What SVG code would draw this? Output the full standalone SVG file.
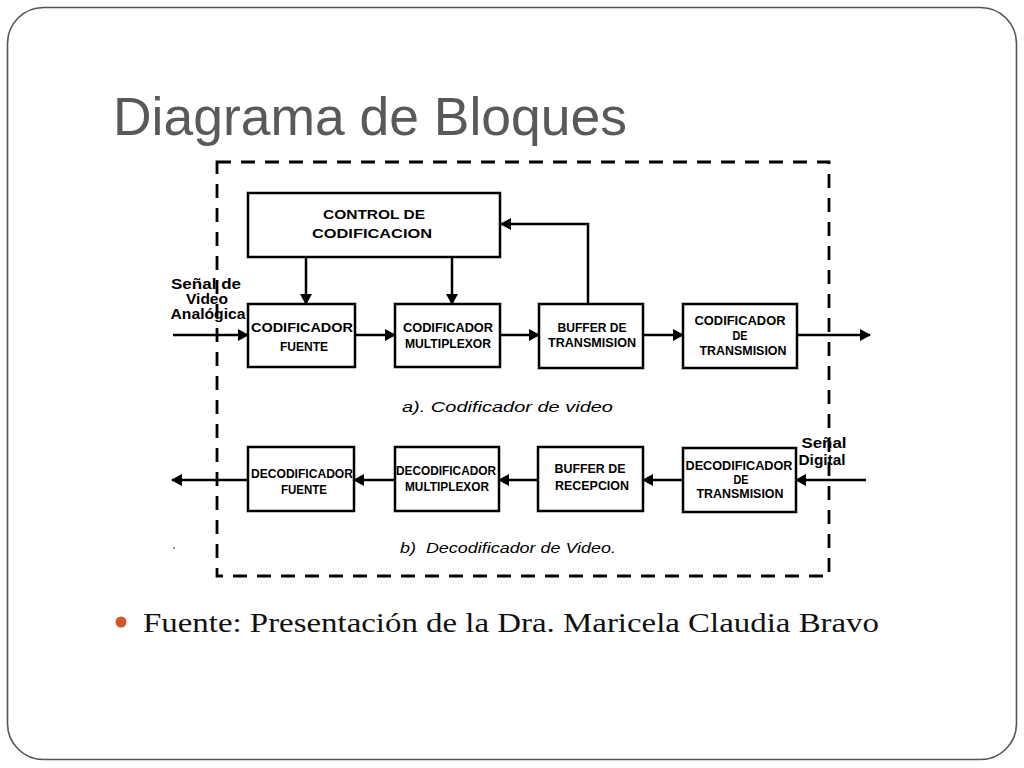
<svg xmlns="http://www.w3.org/2000/svg" width="1024" height="768" viewBox="0 0 1024 768">
<style>
.box{fill:#fff;stroke:#000;stroke-width:2.5}
.bt{font-family:"Liberation Sans",Arial,sans-serif;font-weight:bold;font-size:12.5px;fill:#000;text-anchor:middle}
.lbl{font-family:"Liberation Sans",Arial,sans-serif;font-weight:bold;font-size:15px;fill:#000;text-anchor:middle}
.cap{font-family:"Liberation Sans",Arial,sans-serif;font-style:italic;font-size:15px;fill:#000}
.con{fill:none;stroke:#000;stroke-width:2.5;marker-end:url(#ah)}
</style>
<defs>
<marker id="ah" markerUnits="userSpaceOnUse" markerWidth="11" markerHeight="12" refX="10" refY="6" orient="auto">
<path d="M0,0 L11,6 L0,12 z" fill="#000"/>
</marker>
</defs>
<rect width="1024" height="768" fill="#fff"/>
<rect x="7.5" y="7.5" width="1009" height="752" rx="36" ry="36" fill="none" stroke="#555" stroke-width="1.6"/>
<text x="113" y="135" font-family="'Liberation Sans',Arial,sans-serif" font-size="53" fill="#595959" textLength="514" lengthAdjust="spacingAndGlyphs">Diagrama de Bloques</text>
<rect x="217" y="162" width="612" height="414" fill="none" stroke="#000" stroke-width="2.8" stroke-dasharray="14 10"/>

<g id="connectors">
<path class="con" d="M173,335 H248"/>
<path class="con" d="M355,335 H395"/>
<path class="con" d="M500,335 H539"/>
<path class="con" d="M643,335 H683"/>
<path class="con" d="M797,335 H870"/>
<path class="con" d="M306,257 V304"/>
<path class="con" d="M452,257 V304"/>
<path class="con" d="M588,304 V224 H501"/>
<path class="con" d="M866,480 H796"/>
<path class="con" d="M683,480 H643"/>
<path class="con" d="M538,480 H499"/>
<path class="con" d="M395,480 H354"/>
<path class="con" d="M248,480 H172"/>
</g>

<g id="control">
<rect class="box" x="248" y="193" width="252" height="64"/>
<text class="bt" x="374" y="219" font-size="13.5" textLength="102" lengthAdjust="spacingAndGlyphs">CONTROL DE</text>
<text class="bt" x="372" y="238" font-size="13.5" textLength="120" lengthAdjust="spacingAndGlyphs">CODIFICACION</text>
</g>
<g id="cod-fuente">
<rect class="box" x="248" y="304" width="107" height="63"/>
<text class="bt" x="302" y="332" textLength="102" lengthAdjust="spacingAndGlyphs">CODIFICADOR</text>
<text class="bt" x="304" y="351" textLength="48" lengthAdjust="spacingAndGlyphs">FUENTE</text>
</g>
<g id="cod-mux">
<rect class="box" x="395" y="304" width="105" height="63"/>
<text class="bt" x="448" y="332" textLength="90" lengthAdjust="spacingAndGlyphs">CODIFICADOR</text>
<text class="bt" x="448" y="348" textLength="86" lengthAdjust="spacingAndGlyphs">MULTIPLEXOR</text>
</g>
<g id="buffer-tx">
<rect class="box" x="539" y="304" width="104" height="64"/>
<text class="bt" x="592" y="332" textLength="69" lengthAdjust="spacingAndGlyphs">BUFFER DE</text>
<text class="bt" x="592" y="347" textLength="88" lengthAdjust="spacingAndGlyphs">TRANSMISION</text>
</g>
<g id="cod-tx">
<rect class="box" x="683" y="304" width="114" height="64"/>
<text class="bt" x="740" y="325" textLength="91" lengthAdjust="spacingAndGlyphs">CODIFICADOR</text>
<text class="bt" x="740" y="340" textLength="15" lengthAdjust="spacingAndGlyphs">DE</text>
<text class="bt" x="743" y="355" textLength="87" lengthAdjust="spacingAndGlyphs">TRANSMISION</text>
</g>

<g id="dec-fuente">
<rect class="box" x="248" y="447" width="106" height="64"/>
<text class="bt" x="302" y="478" textLength="102" lengthAdjust="spacingAndGlyphs">DECODIFICADOR</text>
<text class="bt" x="304" y="494" textLength="46" lengthAdjust="spacingAndGlyphs">FUENTE</text>
</g>
<g id="dec-mux">
<rect class="box" x="395" y="447" width="104" height="64"/>
<text class="bt" x="446" y="475" textLength="100" lengthAdjust="spacingAndGlyphs">DECODIFICADOR</text>
<text class="bt" x="447" y="491" textLength="84" lengthAdjust="spacingAndGlyphs">MULTIPLEXOR</text>
</g>
<g id="buffer-rx">
<rect class="box" x="538" y="447" width="105" height="64"/>
<text class="bt" x="590" y="473" textLength="71" lengthAdjust="spacingAndGlyphs">BUFFER DE</text>
<text class="bt" x="592" y="490" textLength="74" lengthAdjust="spacingAndGlyphs">RECEPCION</text>
</g>
<g id="dec-tx">
<rect class="box" x="683" y="448" width="113" height="64"/>
<text class="bt" x="739" y="470" textLength="107" lengthAdjust="spacingAndGlyphs">DECODIFICADOR</text>
<text class="bt" x="741" y="484" textLength="15" lengthAdjust="spacingAndGlyphs">DE</text>
<text class="bt" x="740" y="498" textLength="87" lengthAdjust="spacingAndGlyphs">TRANSMISION</text>
</g>

<g id="labels">
<text class="lbl" x="206" y="289" font-size="12.5" textLength="70" lengthAdjust="spacingAndGlyphs">Señal de</text>
<text class="lbl" x="207" y="304" font-size="12.5" textLength="42" lengthAdjust="spacingAndGlyphs">Video</text>
<text class="lbl" x="208" y="319" font-size="12.5" textLength="75" lengthAdjust="spacingAndGlyphs">Analógica</text>
<text class="lbl" x="824" y="448" textLength="45" lengthAdjust="spacingAndGlyphs">Señal</text>
<text class="lbl" x="822" y="465" textLength="47" lengthAdjust="spacingAndGlyphs">Digital</text>
<text class="cap" x="402" y="412" textLength="211" lengthAdjust="spacingAndGlyphs">a). Codificador de video</text>
<text class="cap" x="400" y="553" textLength="216" lengthAdjust="spacingAndGlyphs" xml:space="preserve">b)  Decodificador de Video.</text>
<circle cx="174" cy="548" r="0.8" fill="#000"/>
</g>

<circle cx="121" cy="622" r="5.5" fill="#d3542a"/>
<text x="143" y="632" font-family="'Liberation Serif','Times New Roman',serif" font-size="28" fill="#111" textLength="736" lengthAdjust="spacingAndGlyphs">Fuente: Presentación de la Dra. Maricela Claudia Bravo</text>
</svg>
